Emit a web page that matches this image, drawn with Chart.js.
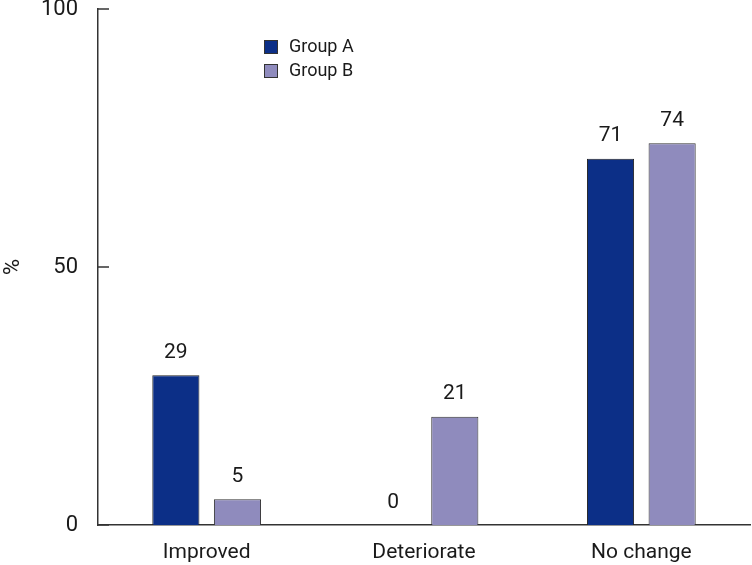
<!DOCTYPE html>
<html>
<head>
<meta charset="utf-8">
<title>Group A vs Group B</title>
<script src="https://cdn.jsdelivr.net/npm/chart.js"></script>
<style>
  html, body { margin: 0; padding: 0; background: #fff; }
  #wrap { width: 752px; height: 565px; }
</style>
</head>
<body>
<div id="wrap"><canvas id="barChart" width="752" height="565"></canvas></div>
<script>
const categories = ['Improved', 'Deteriorate', 'No change'];
const groupA = [29, 0, 71];
const groupB = [5, 21, 74];
const yTicks = [0, 50, 100];

const FONT = '"Liberation Sans Narrow", "Roboto", "Liberation Sans", sans-serif';
const colorA = '#0c2f87';
const colorB = '#8f8bbd';

// value labels above each bar
const valueLabels = {
    id: 'valueLabels',
    afterDatasetsDraw(chart) {
        const ctx = chart.ctx;
        ctx.save();
        ctx.fillStyle = '#1a1a1a';
        ctx.font = '21px ' + FONT;
        ctx.textAlign = 'center';
        ctx.textBaseline = 'bottom';
        chart.data.datasets.forEach((ds, i) => {
            chart.getDatasetMeta(i).data.forEach((bar, j) => {
                ctx.fillText(ds.data[j], bar.x, bar.y - 12);
            });
        });
        ctx.restore();
    }
};

// inward tick marks + legend box
const extras = {
    id: 'extras',
    afterDraw(chart) {
        const ctx = chart.ctx;
        const y = chart.scales.y;
        const left = chart.chartArea.left;
        ctx.save();
        ctx.strokeStyle = '#333';
        ctx.lineWidth = 1.5;
        yTicks.forEach(v => {
            const py = Math.round(y.getPixelForValue(v));
            ctx.beginPath();
            ctx.moveTo(left, py);
            ctx.lineTo(left + 11, py);
            ctx.stroke();
        });

        // legend
        const items = [['Group A', colorA], ['Group B', colorB]];
        ctx.font = '18px ' + FONT;
        ctx.textBaseline = 'middle';
        items.forEach((it, i) => {
            const ly = 47 + i * 24;
            ctx.fillStyle = it[1];
            ctx.fillRect(264, ly - 7, 14, 14);
            ctx.strokeStyle = '#333';
            ctx.lineWidth = 1;
            ctx.strokeRect(264.5, ly - 6.5, 13, 13);
            ctx.fillStyle = '#1a1a1a';
            ctx.fillText(it[0], 289, ly);
        });
        ctx.restore();
    }
};

new Chart(document.getElementById('barChart'), {
    type: 'bar',
    data: {
        labels: categories,
        datasets: [
            { label: 'Group A', data: groupA, backgroundColor: colorA, borderColor: '#222', borderWidth: 1 },
            { label: 'Group B', data: groupB, backgroundColor: colorB, borderColor: '#333', borderWidth: 1 }
        ]
    },
    options: {
        responsive: false,
        animation: false,
        layout: { padding: { top: 9, right: 2, left: 0, bottom: 0 } },
        datasets: { bar: { categoryPercentage: 0.567, barPercentage: 0.765 } },
        plugins: { legend: { display: false }, tooltip: { enabled: false } },
        scales: {
            x: {
                grid: { display: false },
                border: { color: '#333', width: 1.5 },
                ticks: { color: '#1a1a1a', font: { family: FONT, size: 21 }, padding: 7 },
                afterFit(s) { s.height = 40; s.paddingLeft = 0; s.paddingRight = 0; }
            },
            y: {
                min: 0,
                max: 100,
                afterBuildTicks(s) { s.ticks = yTicks.map(v => ({ value: v })); },
                grid: { display: false },
                border: { color: '#333', width: 1.5 },
                ticks: { color: '#1a1a1a', font: { family: FONT, size: 22 }, padding: 12 },
                title: { display: true, text: '%', color: '#1a1a1a', font: { family: FONT, size: 22 }, padding: 0 },
                afterFit(s) { s.width = 98; s.paddingTop = 0; s.paddingBottom = 0; }
            }
        }
    },
    plugins: [valueLabels, extras]
});
</script>
</body>
</html>
